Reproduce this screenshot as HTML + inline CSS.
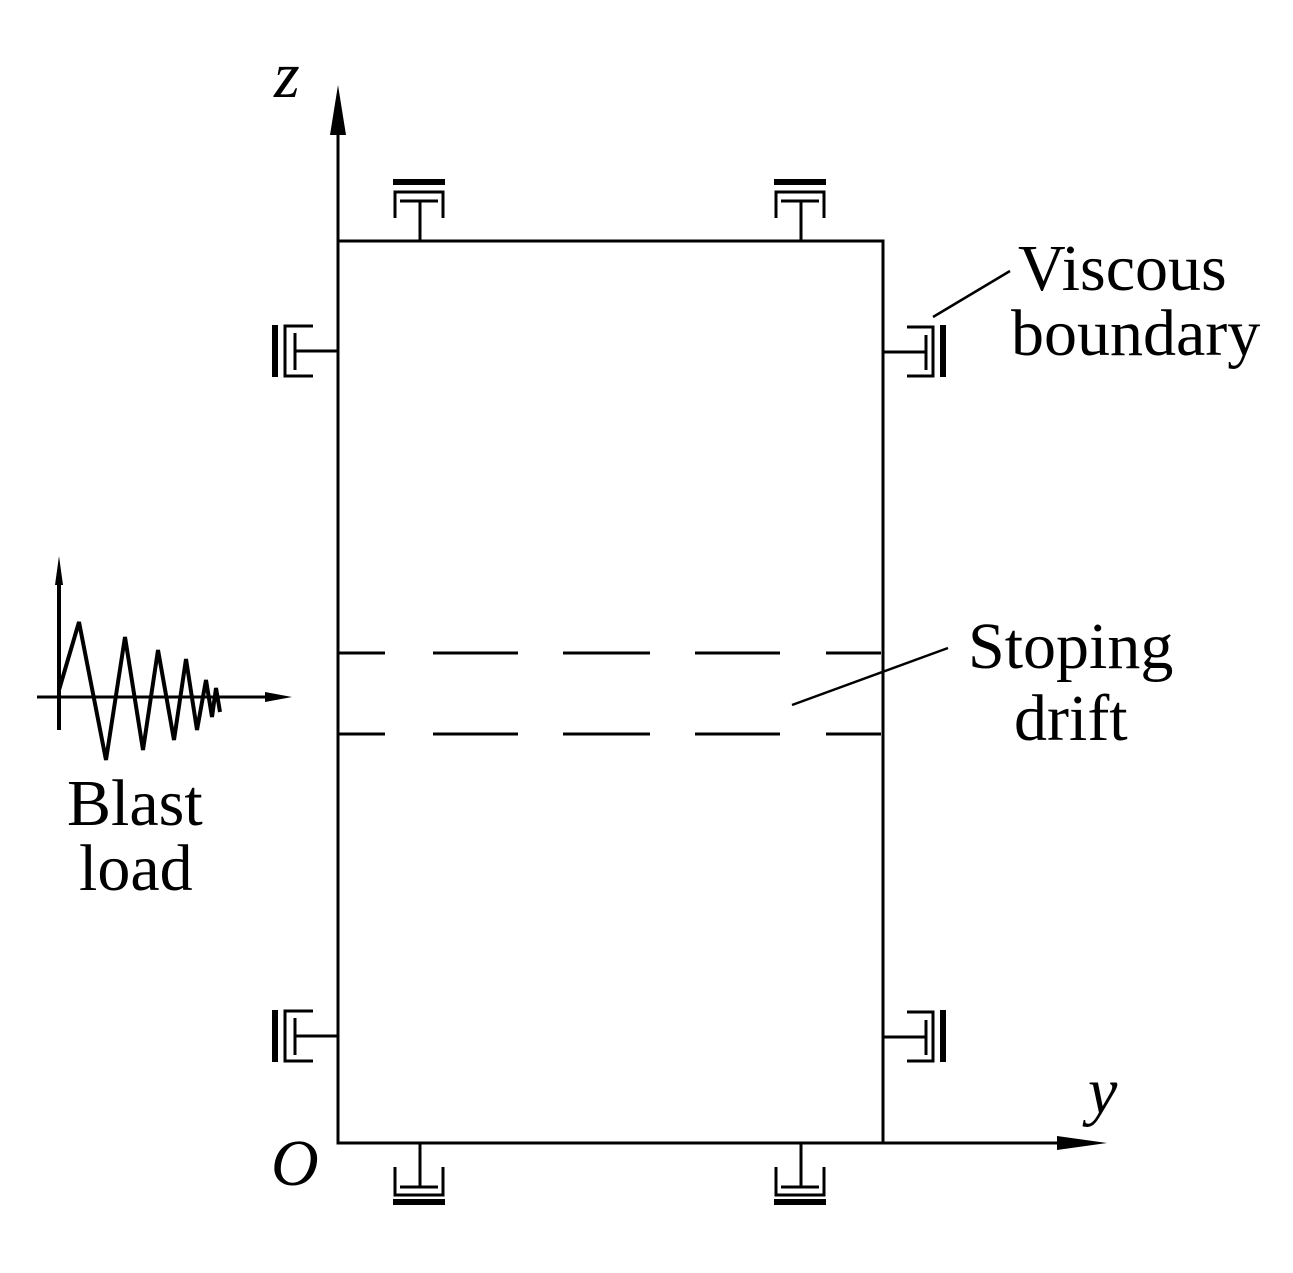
<!DOCTYPE html>
<html><head><style>body{margin:0;background:#fff}svg{display:block}text{font-family:"Liberation Serif",serif;fill:#000}</style></head><body>
<svg width="1293" height="1273" viewBox="0 0 1293 1273">
<g stroke="#000" stroke-width="3" fill="none">
<rect x="338" y="241" width="545" height="902"/>
<line x1="338" y1="241" x2="338" y2="130"/>
<line x1="883" y1="1143" x2="1060" y2="1143"/>
<g stroke-dasharray="47,48,85,45,87,45,85,46,55">
<line x1="338" y1="653" x2="883" y2="653"/>
<line x1="338" y1="734" x2="883" y2="734"/>
</g>
<line x1="792" y1="705" x2="948" y2="648" stroke-width="2.5"/>
<line x1="933" y1="317" x2="1010" y2="271" stroke-width="2.5"/>
<g id="td">
<line x1="393" y1="182" x2="445" y2="182" stroke-width="6"/>
<polyline points="395,218 395,192 443,192 443,218"/>
<line x1="400" y1="201" x2="438" y2="201"/>
<line x1="420" y1="201" x2="420" y2="241"/>
</g>
<use href="#td" x="381"/>
<g id="bd">
<line x1="393" y1="1202" x2="445" y2="1202" stroke-width="6"/>
<polyline points="395,1167 395,1195 443,1195 443,1167"/>
<line x1="400" y1="1187" x2="438" y2="1187"/>
<line x1="420" y1="1143" x2="420" y2="1187"/>
</g>
<use href="#bd" x="381"/>
<g id="ld">
<line x1="275" y1="325" x2="275" y2="377" stroke-width="6"/>
<polyline points="313,326 285,326 285,376 313,376"/>
<line x1="295" y1="333" x2="295" y2="370"/>
<line x1="295" y1="351" x2="338" y2="351"/>
</g>
<use href="#ld" y="685"/>
<g id="rd">
<line x1="943" y1="325" x2="943" y2="377" stroke-width="6"/>
<polyline points="907,327 933,327 933,376 907,376"/>
<line x1="926" y1="335" x2="926" y2="370"/>
<line x1="883" y1="352" x2="926" y2="352"/>
</g>
<use href="#rd" y="685"/>
<line x1="59" y1="570" x2="59" y2="730" stroke-width="4"/>
<line x1="37" y1="697" x2="270" y2="697"/>
<polyline stroke-width="4" points="59,690 79,622 106,760 125,637 143,750 158,650 174,740 186,659 197,730 206,680 212,717 216,688 220,712"/>
</g>
<polygon points="338,85 330,135 346,135"/>
<polygon points="1107,1143 1057,1136 1057,1150"/>
<polygon points="59,556 55,585 63,585"/>
<polygon points="292,697 265,692 265,702"/>
<g font-size="66">
<text x="1018" y="290">Viscous</text>
<text x="1011" y="355">boundary</text>
<text x="968" y="668">Stoping</text>
<text x="1014" y="740">drift</text>
<text x="67" y="825">Blast</text>
<text x="79" y="890">load</text>
<text x="274" y="97" font-style="italic">z</text>
<text x="1088" y="1113" font-style="italic">y</text>
<text x="271" y="1185" font-style="italic">O</text>
</g>
</svg>
</body></html>
